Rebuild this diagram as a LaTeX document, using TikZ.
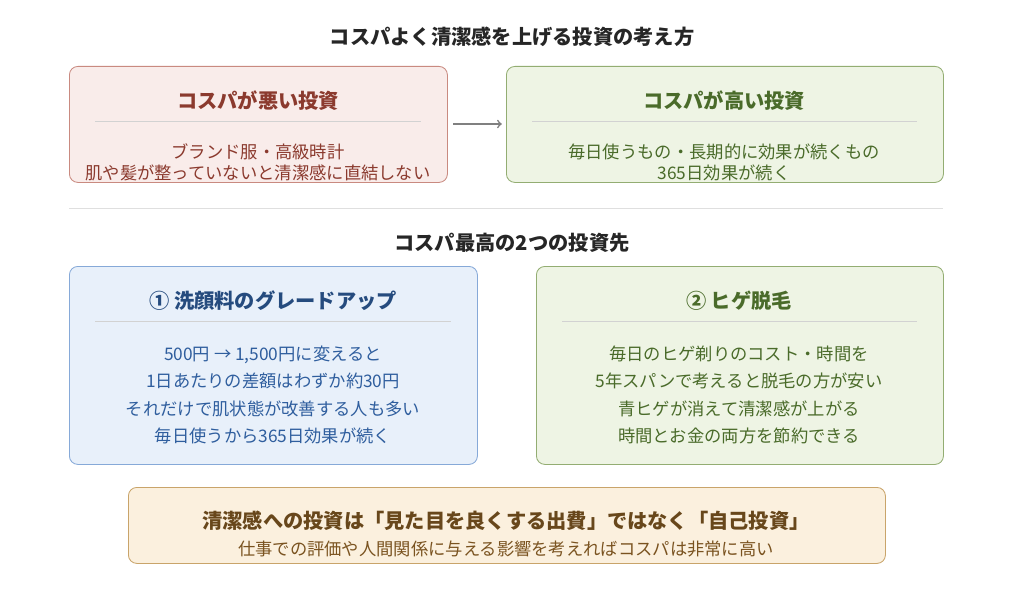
\documentclass[tikz,border=0pt]{standalone}
\usepackage{fontspec}
\setmainfont{Noto Sans CJK JP}
\usetikzlibrary{positioning}
\definecolor{badfill}{HTML}{F9ECEA}\definecolor{baddraw}{HTML}{C98A80}\definecolor{badtext}{HTML}{8B3A2E}
\definecolor{goodfill}{HTML}{EEF4E4}\definecolor{gooddraw}{HTML}{93AD72}\definecolor{goodtext}{HTML}{4A6B2A}
\definecolor{bluefill}{HTML}{E8F0FA}\definecolor{bluedraw}{HTML}{86A9D8}\definecolor{bluetext}{HTML}{2F5E9E}
\definecolor{orfill}{HTML}{FBF0DE}\definecolor{ordraw}{HTML}{C9A46A}\definecolor{ortext}{HTML}{7A5320}
\begin{document}
\begin{tikzpicture}[
    x=0.025cm, y=-0.025cm,
    font=\fontsize{12.3}{15}\selectfont,
    box/.style={draw, rounded corners=6pt, line width=0.6pt, anchor=north west},
    head/.style={font=\fontsize{14.4}{17}\selectfont\bfseries},
    txt/.style={align=center, font=\fontsize{12.3}{15}\selectfont},
    sep/.style={draw=gray!35, line width=0.5pt}
]
\useasboundingbox (0,0) rectangle (1024,591);

% titles
\node[head, text=black!85] (title) at (512,37) {コスパよく清潔感を上げる投資の考え方};
\node[head, text=black!85] (subtitle) at (512,243) {コスパ最高の2つの投資先};
\draw[gray!25] (69,208) -- (943,208);

% bad investment
\node[box, fill=badfill, draw=baddraw, minimum width=378*0.025cm, minimum height=116*0.025cm] (bad) at (69,66) {};
\node[head, text=badtext] (badhead) at (258,101) {コスパが悪い投資};
\draw[sep] (95,121) -- (421,121);
\node[txt, text=badtext] (badtxt) at (258,162) {ブランド服・高級時計\\肌や髪が整っていないと清潔感に直結しない};

% good investment
\node[box, fill=goodfill, draw=gooddraw, minimum width=437*0.025cm, minimum height=116*0.025cm] (good) at (506,66) {};
\node[head, text=goodtext] (goodhead) at (724,101) {コスパが高い投資};
\draw[sep] (532,121) -- (917,121);
\node[txt, text=goodtext] (goodtxt) at (724,162) {毎日使うもの・長期的に効果が続くもの\\365日効果が続く};

\draw[->, gray, line width=1.2pt, shorten <=4pt, shorten >=3pt] (bad.east |- 0,124) -- (good.west |- 0,124);

% face wash
\node[box, fill=bluefill, draw=bluedraw, minimum width=408*0.025cm, minimum height=198*0.025cm] (wash) at (69,266) {};
\node[head, text=bluetext!80!black] (washhead) at (273,301) {① 洗顔料のグレードアップ};
\draw[sep] (95,321) -- (451,321);
\node[txt, text=bluetext, font=\fontsize{12.3}{19.5}\selectfont] (washtxt) at (273,395) {500円 → 1,500円に変えると\\1日あたりの差額はわずか約30円\\それだけで肌状態が改善する人も多い\\毎日使うから365日効果が続く};

% beard removal
\node[box, fill=goodfill, draw=gooddraw, minimum width=407*0.025cm, minimum height=198*0.025cm] (beard) at (536,266) {};
\node[head, text=goodtext] (beardhead) at (739,301) {② ヒゲ脱毛};
\draw[sep] (562,321) -- (917,321);
\node[txt, text=goodtext, font=\fontsize{12.3}{19.5}\selectfont] (beardtxt) at (739,395) {毎日のヒゲ剃りのコスト・時間を\\5年スパンで考えると脱毛の方が安い\\青ヒゲが消えて清潔感が上がる\\時間とお金の両方を節約できる};

% conclusion
\node[box, fill=orfill, draw=ordraw, minimum width=757*0.025cm, minimum height=76*0.025cm] (concl) at (128,487) {};
\node[head, text=ortext!85!black] (conclhead) at (506,521) {清潔感への投資は「見た目を良くする出費」ではなく「自己投資」};
\node[txt, text=ortext] (concltxt) at (506,549) {仕事での評価や人間関係に与える影響を考えればコスパは非常に高い};
\end{tikzpicture}
\end{document}
